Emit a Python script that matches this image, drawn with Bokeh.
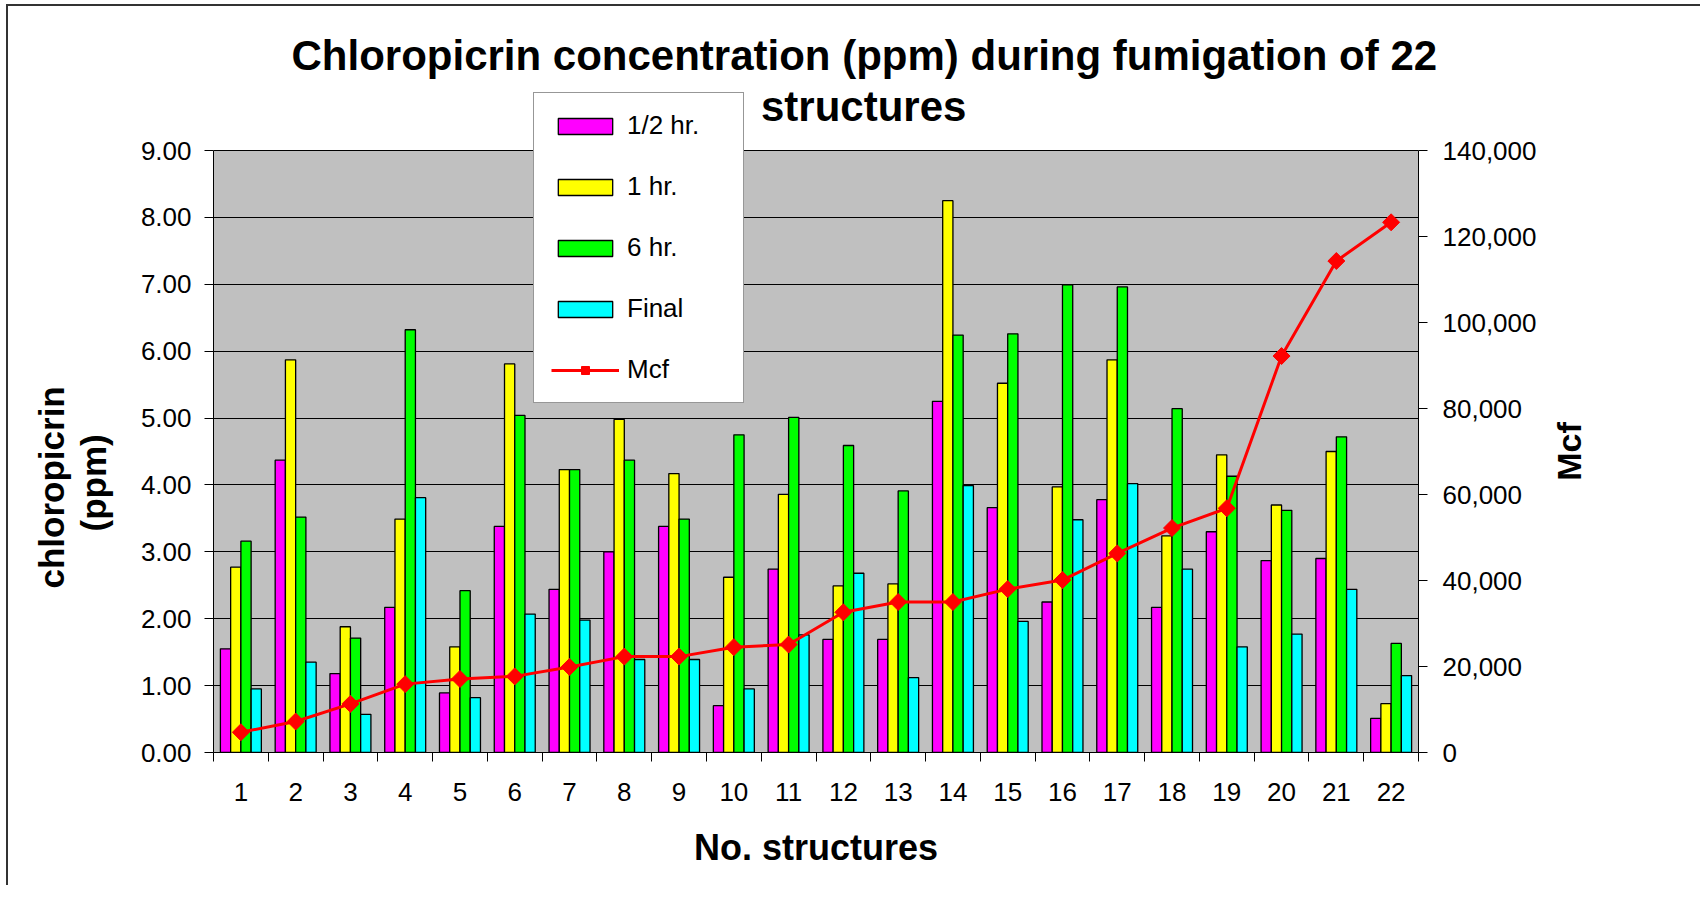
import numpy as np
from bokeh.plotting import figure
from bokeh.layouts import row
from bokeh.models import (Range1d, LinearAxis, FixedTicker, NumeralTickFormatter,
                          Legend, LegendItem, Label, Title, BoxAnnotation, ColumnDataSource)
from bokeh.transform import dodge
from bokeh.embed import file_html
from bokeh.resources import INLINE

# ---------------- data ----------------
structures = list(range(1, 23))
half_hr = [1.55, 4.37, 1.18, 2.17, 0.89, 3.38, 2.44, 3.00, 3.38, 0.70, 2.74,
           1.69, 1.69, 5.25, 3.66, 2.25, 3.78, 2.17, 3.30, 2.87, 2.90, 0.51]
one_hr = [2.77, 5.87, 1.88, 3.49, 1.58, 5.81, 4.23, 4.98, 4.17, 2.62, 3.86,
          2.49, 2.52, 8.25, 5.52, 3.97, 5.87, 3.24, 4.45, 3.70, 4.50, 0.73]
six_hr = [3.16, 3.52, 1.71, 6.32, 2.42, 5.04, 4.23, 4.37, 3.49, 4.75, 5.01,
          4.59, 3.91, 6.24, 6.26, 6.99, 6.96, 5.14, 4.13, 3.62, 4.72, 1.63]
final = [0.95, 1.35, 0.57, 3.81, 0.82, 2.07, 1.98, 1.39, 1.39, 0.95, 1.76,
         2.68, 1.12, 3.99, 1.96, 3.48, 4.02, 2.74, 1.58, 1.77, 2.44, 1.15]
mcf = [4700, 7200, 11300, 15900, 17100, 17700, 19900, 22300, 22300, 24500, 25100,
       32600, 35000, 35000, 38000, 40100, 46300, 52200, 56800, 92200, 114300, 123300]
ppm_ticks = [0, 1, 2, 3, 4, 5, 6, 7, 8, 9]
mcf_ticks = [0, 20000, 40000, 60000, 80000, 100000, 120000, 140000]
series_labels = ["1/2 hr.", "1 hr.", "6 hr.", "Final", "Mcf"]
title_lines = ["Chloropicrin concentration (ppm) during fumigation of 22", "structures"]
y_title = ["chloropicrin", "(ppm)"]
y2_title = "Mcf"

FONT = "Liberation Sans"
TICK_FS = "26px"

# layout (pixels): plot area 1205 x 602; the frame is extended upward so the
# legend and second title line (which overlap the area above the plot) show
AREA_H = 602
FRAME_H = 668
TOP, BOTTOM = 78, 133
ext = FRAME_H / AREA_H

src = ColumnDataSource(dict(pos=structures, half=half_hr, one=one_hr,
                            six=six_hr, final=final, mcf=mcf))

x0, x1 = structures[0] - 0.5, structures[-1] + 0.5
p = figure(frame_width=1205, frame_height=FRAME_H,
           x_range=Range1d(x0, x1),
           y_range=Range1d(ppm_ticks[0], ppm_ticks[-1] * ext),
           output_backend="svg", toolbar_location=None,
           min_border_left=205, min_border_right=122,
           min_border_top=TOP, min_border_bottom=BOTTOM)
p.background_fill_color = "white"
p.border_fill_color = "white"
p.outline_line_color = None
p.extra_y_ranges = {"mcf": Range1d(mcf_ticks[0], mcf_ticks[-1] * ext)}

# grey plot area
p.add_layout(BoxAnnotation(left=x0, right=x1, bottom=ppm_ticks[0], top=ppm_ticks[-1],
                           fill_color="#C0C0C0", fill_alpha=1.0,
                           line_color="#808080", line_width=1, level="image"))

# grid
p.xgrid.visible = False
p.ygrid.ticker = FixedTicker(ticks=ppm_ticks)
p.ygrid.grid_line_color = "black"
p.ygrid.grid_line_width = 1

# x axis
xa = p.xaxis[0]
xa.ticker = FixedTicker(ticks=structures,
                        minor_ticks=[s - 0.5 for s in structures] + [structures[-1] + 0.5])
xa.major_tick_out = 0
xa.major_tick_in = 0
xa.minor_tick_out = 9
xa.minor_tick_in = 0
xa.minor_tick_line_color = "black"
xa.axis_line_color = "black"
xa.major_label_standoff = 21
xa.major_label_text_font = FONT
xa.major_label_text_font_size = TICK_FS
xa.major_label_text_color = "black"
xa.axis_label = "No. structures"
xa.axis_label_text_font = FONT
xa.axis_label_text_font_style = "bold"
xa.axis_label_text_font_size = "36px"
xa.axis_label_text_color = "black"
xa.axis_label_standoff = 23

# left axis (blank axis label only reserves room for the title lines)
ya = p.yaxis[0]
ya.bounds = (ppm_ticks[0], ppm_ticks[-1])
ya.ticker = FixedTicker(ticks=ppm_ticks)
ya.formatter = NumeralTickFormatter(format="0.00")
ya.major_tick_out = 9
ya.major_tick_in = 0
ya.minor_tick_out = 0
ya.minor_tick_in = 0
ya.major_tick_line_color = "black"
ya.axis_line_color = "black"
ya.major_label_standoff = 13
ya.major_label_text_font = FONT
ya.major_label_text_font_size = TICK_FS
ya.major_label_text_color = "black"
ya.axis_label = " "
ya.axis_label_text_font_size = "1px"
ya.axis_label_standoff = 20

# left axis title (two lines, stacked outward from the axis)
p.add_layout(Title(text=y_title[1], align="left", offset=221, standoff=1,
                   vertical_align="bottom",
                   text_font=FONT, text_font_style="bold", text_font_size="35px",
                   text_color="black"), "left")
p.add_layout(Title(text=y_title[0], align="left", offset=164, standoff=2,
                   vertical_align="bottom",
                   text_font=FONT, text_font_style="bold", text_font_size="35px",
                   text_color="black"), "left")

# right axis
ra = LinearAxis(y_range_name="mcf", ticker=FixedTicker(ticks=mcf_ticks),
                formatter=NumeralTickFormatter(format="0,0"),
                bounds=(mcf_ticks[0], mcf_ticks[-1]))
ra.major_tick_out = 9
ra.major_tick_in = 0
ra.minor_tick_out = 0
ra.minor_tick_in = 0
ra.major_tick_line_color = "black"
ra.axis_line_color = "black"
ra.major_label_standoff = 15
ra.major_label_text_font = FONT
ra.major_label_text_font_size = TICK_FS
ra.major_label_text_color = "black"
p.add_layout(ra, "right")

# bars
bw = 0.187
offs = [-1.5 * bw, -0.5 * bw, 0.5 * bw, 1.5 * bw]
cols = ["half", "one", "six", "final"]
colors = ["#FF00FF", "#FFFF00", "#00FF00", "#00FFFF"]
bar_rs = []
for off, c, col in zip(offs, cols, colors):
    r = p.vbar(x=dodge("pos", off), top=c, width=bw, bottom=0, source=src,
               fill_color=col, line_color="black", line_width=1.3)
    bar_rs.append(r)

# Mcf line
lr = p.line("pos", "mcf", source=src, y_range_name="mcf", line_color="#FF0000", line_width=3)
mr = p.scatter("pos", "mcf", source=src, y_range_name="mcf", marker="square",
               angle=np.pi / 4, size=12, fill_color="#FF0000", line_color="#FF0000")

items = [LegendItem(label=lab, renderers=[r]) for lab, r in zip(series_labels[:4], bar_rs)]
items.append(LegendItem(label=series_labels[4], renderers=[lr, mr]))
legend = Legend(items=items, location=(320, 349), orientation="vertical",
                padding=17, spacing=30, glyph_width=68, glyph_height=20,
                label_standoff=8, label_width=99, label_height=30,
                label_text_font=FONT, label_text_font_size="26px",
                label_text_color="black",
                border_line_color="#303030", border_line_width=1,
                background_fill_color="white", background_fill_alpha=1.0)
p.add_layout(legend, "center")

# chart title: first line above the frame, second line inside (beside the legend)
p.add_layout(Title(text=title_lines[0], align="left", offset=78, standoff=11,
                   vertical_align="bottom", text_font=FONT, text_font_style="bold",
                   text_font_size="42px", text_color="black"), "above")
p.add_layout(Label(x=12.37, y=9.66, text=title_lines[1], text_align="center",
                   text_baseline="middle", text_font=FONT, text_font_style="bold",
                   text_font_size="42px", text_color="black"))

# strip on the right carrying the secondary-axis title (reads bottom to top)
STRIP_W = 160
p2 = figure(frame_width=STRIP_W, frame_height=FRAME_H,
            x_range=Range1d(0, STRIP_W),
            y_range=Range1d(ppm_ticks[0], ppm_ticks[-1] * ext),
            x_axis_location=None, y_axis_location=None,
            output_backend="svg", toolbar_location=None,
            min_border_left=0, min_border_right=0,
            min_border_top=TOP, min_border_bottom=BOTTOM)
p2.grid.visible = False
p2.outline_line_color = None
p2.background_fill_color = "white"
p2.border_fill_color = "white"
p2.add_layout(Label(x=28, y=(ppm_ticks[0] + ppm_ticks[-1]) / 2, text=y2_title,
                    angle=np.pi / 2, text_align="center", text_baseline="middle",
                    text_font=FONT, text_font_style="bold", text_font_size="34px",
                    text_color="black"))

layout = row(p, p2, spacing=0)
layout.styles = {"border-left": "2px solid #333333", "border-top": "2px solid #333333",
                 "margin-left": "6px", "margin-top": "4px"}

open("out.html", "w").write(file_html(layout, INLINE))
